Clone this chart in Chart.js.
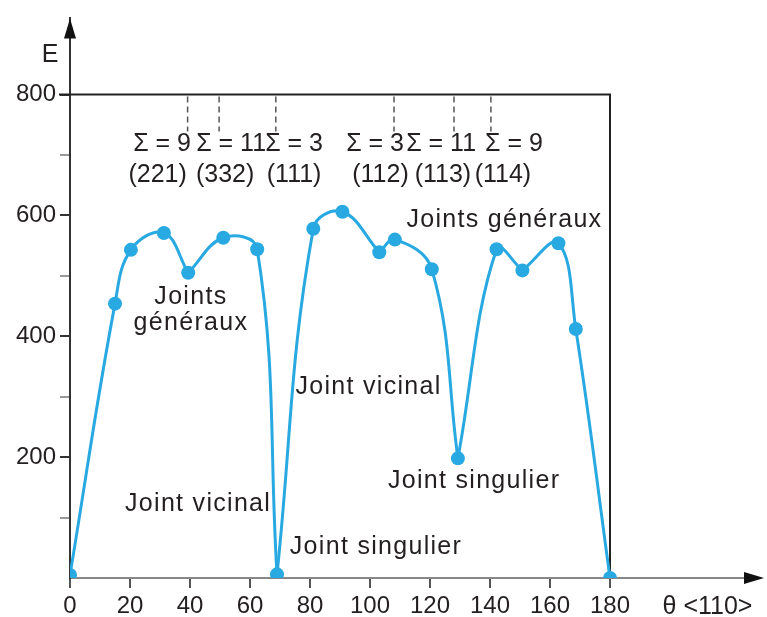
<!DOCTYPE html>
<html>
<head>
<meta charset="utf-8">
<script src="https://cdn.jsdelivr.net/npm/chart.js@4.4.1/dist/chart.umd.min.js"></script>
<style>
  html, body { margin: 0; padding: 0; background: #fff; }
  #wrap { width: 767px; height: 617px; }
</style>
</head>
<body>
<div id="wrap"><canvas id="energy-chart"></canvas></div>
<script>
// misorientation angle around <110> (degrees) and boundary energy E
const thetaValues = [0, 15, 20.3, 31.3, 39.4, 51.1, 62.4, 69, 81.1, 90.8, 103.1, 108.3, 120.6, 129.3, 142.2, 150.8, 162.8, 168.6, 180];
const energyValues = [5, 454, 543, 571, 505, 563, 544, 6, 578, 606, 539, 560, 511, 198, 544, 509, 554, 412, 0];
// indices where the curve has a cusp (the line is broken there)
const cuspIndices = [0, 4, 7, 10, 13, 15, 18];

// special boundaries (dashed marks under the 800 line)
const sigmaTheta = [39.2, 49.7, 68.6, 108, 128, 140.3];
const sigmaLabels = ["Σ = 9", "Σ = 11", "Σ = 3", "Σ = 3", "Σ = 11", "Σ = 9"];
const planeLabels = ["(221)", "(332)", "(111)", "(112)", "(113)", "(114)"];

const xTicks = [0, 20, 40, 60, 80, 100, 120, 140, 160, 180];
const yTicks = [0, 100, 200, 300, 400, 500, 600, 700, 800];
const yLabelled = [200, 400, 600, 800];

const blue = "#29a9e1";
const ink = "#231f20";
const fontFamily = "'Liberation Sans', Arial, Helvetica, sans-serif";

// where the texts go (in chart units)
const sigmaTextPos = [30.7, 53.7, 74.7, 101.7, 123.7, 148];
const planeTextPos = [29.2, 51.7, 74.7, 103.5, 124.3, 144.3];
const notes = [
  { text: "Joints", x: 40.3, y: 464 },
  { text: "généraux", x: 40.3, y: 421 },
  { text: "Joints généraux", x: 144.8, y: 593 },
  { text: "Joint vicinal", x: 99.5, y: 316 },
  { text: "Joint vicinal", x: 42.7, y: 122 },
  { text: "Joint singulier", x: 134.7, y: 161 },
  { text: "Joint singulier", x: 102, y: 51 },
];

// one line per stretch between two cusps, so the cusps stay sharp
const segments = [];
for (let s = 0; s < cuspIndices.length - 1; s++) {
  const pts = [];
  for (let i = cuspIndices[s]; i <= cuspIndices[s + 1]; i++) {
    pts.push({ x: thetaValues[i], y: energyValues[i] });
  }
  segments.push({
    data: pts,
    showLine: true,
    borderColor: blue,
    borderWidth: 3,
    tension: 0.4,
    pointRadius: 0,
    order: 2,
  });
}
const dots = {
  data: thetaValues.map((t, i) => ({ x: t, y: energyValues[i] })),
  showLine: false,
  pointRadius: 7,
  pointBackgroundColor: blue,
  pointBorderWidth: 0,
  order: 1,
};

const decorations = {
  id: "decorations",
  beforeDatasetsDraw(chart) {
    const ctx = chart.ctx;
    const x = chart.scales.x, y = chart.scales.y;
    const x0 = x.getPixelForValue(0), x180 = x.getPixelForValue(180);
    const y0 = y.getPixelForValue(0), y800 = y.getPixelForValue(800);
    ctx.save();
    // frame: 800 line and right side
    ctx.strokeStyle = "#222";
    ctx.lineWidth = 2;
    ctx.beginPath();
    ctx.moveTo(x0 - 11, y800);
    ctx.lineTo(x180, y800);
    ctx.lineTo(x180, y0);
    ctx.stroke();
    // dashed marks
    ctx.strokeStyle = "#555";
    ctx.lineWidth = 1.5;
    ctx.setLineDash([6, 4]);
    sigmaTheta.forEach(t => {
      const px = x.getPixelForValue(t);
      ctx.beginPath();
      ctx.moveTo(px, y800 + 2);
      ctx.lineTo(px, y800 + 37);
      ctx.stroke();
    });
    ctx.restore();
  },
  afterDraw(chart) {
    const ctx = chart.ctx;
    const x = chart.scales.x, y = chart.scales.y;
    const area = chart.chartArea;
    const x0 = x.getPixelForValue(0), y0 = y.getPixelForValue(0);
    ctx.save();
    // arrows
    ctx.fillStyle = "#111";
    ctx.beginPath();
    ctx.moveTo(x0, area.top);
    ctx.lineTo(x0 - 6, area.top + 20);
    ctx.lineTo(x0 + 6, area.top + 20);
    ctx.closePath();
    ctx.fill();
    ctx.beginPath();
    ctx.moveTo(area.right + 4, y0);
    ctx.lineTo(area.right - 16, y0 - 6);
    ctx.lineTo(area.right - 16, y0 + 6);
    ctx.closePath();
    ctx.fill();

    ctx.fillStyle = ink;
    ctx.textAlign = "center";
    ctx.textBaseline = "middle";
    ctx.font = "25px " + fontFamily;
    const rowSigma = y.getPixelForValue(800) + 50;
    const rowPlane = y.getPixelForValue(800) + 81;
    sigmaLabels.forEach((s, i) => {
      ctx.fillText(s, x.getPixelForValue(sigmaTextPos[i]), rowSigma);
    });
    planeLabels.forEach((s, i) => {
      ctx.fillText(s, x.getPixelForValue(planeTextPos[i]), rowPlane);
    });
    // axis titles
    ctx.fillText("E", x0 - 20, area.top + 37);
    ctx.fillText("θ <110>", x.getPixelForValue(212.5), y0 + 29);
    // the notes are set a little wider
    ctx.letterSpacing = "1.3px";
    notes.forEach(n => {
      ctx.fillText(n.text, x.getPixelForValue(n.x), y.getPixelForValue(n.y));
    });
    ctx.restore();
  },
};

new Chart(document.getElementById("energy-chart").getContext("2d"), {
  type: "scatter",
  data: { datasets: [...segments, dots] },
  options: {
    responsive: true,
    maintainAspectRatio: false,
    animation: false,
    layout: { padding: { top: 15, right: 7, left: 0, bottom: 0 } },
    plugins: { legend: { display: false }, tooltip: { enabled: false } },
    scales: {
      x: {
        type: "linear",
        min: 0,
        max: 230,
        afterFit: s => { s.height = 39; },
        afterBuildTicks: s => { s.ticks = xTicks.map(v => ({ value: v })); },
        ticks: {
          autoSkip: false,
          maxRotation: 0,
          color: ink,
          padding: 4,
          font: { family: fontFamily, size: 24 },
        },
        grid: {
          drawOnChartArea: false,
          drawTicks: true,
          tickLength: 10,
          lineWidth: 2,
          color: "#555",
        },
        border: { display: true, color: "#888", width: 2 },
      },
      y: {
        type: "linear",
        min: 0,
        max: 926,
        afterFit: s => { s.width = 70; },
        afterBuildTicks: s => { s.ticks = yTicks.map(v => ({ value: v })); },
        ticks: {
          autoSkip: false,
          color: ink,
          padding: 4,
          font: { family: fontFamily, size: 24 },
          callback: v => (yLabelled.includes(v) ? String(v) : ""),
        },
        grid: {
          drawOnChartArea: false,
          drawTicks: true,
          tickLength: 10,
          lineWidth: 2,
          color: c => (c.tick && c.tick.value === 0 ? "rgba(0,0,0,0)" : (yLabelled.includes(c.tick && c.tick.value) ? "#333" : "#999")),
        },
        border: { display: true, color: "#333", width: 2 },
      },
    },
  },
  plugins: [decorations],
});
</script>
</body>
</html>
